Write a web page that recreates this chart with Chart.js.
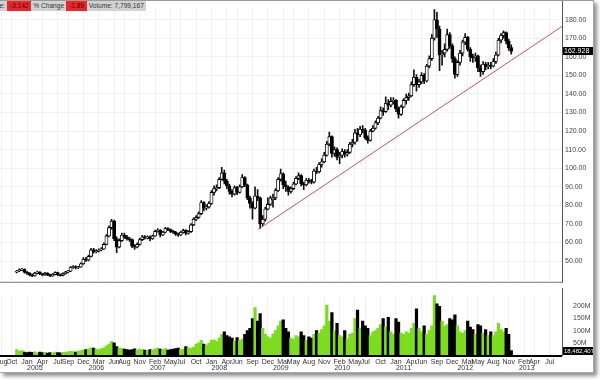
<!DOCTYPE html>
<html>
<head>
<meta charset="utf-8">
<script src="https://cdn.jsdelivr.net/npm/chart.js@4.4.1/dist/chart.umd.min.js"></script>
<style>
  body { margin: 0; background: #fff; font-family: "Liberation Sans", Arial, sans-serif; }
  #frame {
    position: absolute; left: 0; top: 0; width: 593px; height: 371px;
    border-top: 1px solid #9a9a9a; border-right: 1px solid #a8a8a8; border-bottom: 1px solid #a8a8a8;
    box-shadow: 3px 3px 4px rgba(0, 0, 0, 0.45); background: #fff; overflow: hidden;
  }
  #price { position: absolute; left: 0; top: 0; }
  #volume { position: absolute; left: 0; top: 287px; }
  #info {
    position: absolute; left: 0; top: 0; height: 10px; background: #d2d2d2; padding-right: 2px;
    font-size: 6.6px; line-height: 10px; color: #333; white-space: nowrap; overflow: hidden;
  }
  #info .red { display: inline-block; background: #e8262b; color: #5a0000; padding: 0 3px; }
</style>
</head>
<body>
<div id="frame">
  <canvas id="price" width="593" height="288"></canvas>
  <canvas id="volume" width="593" height="84"></canvas>
  <div id="info"><span style="margin-left:-20px">Change:</span> <span class="red">-3.142</span> % Change <span class="red">-1.89</span> Volume: 7,799,167</div>
</div>
<script>
// x is measured in months from Jan 2005, two candles per month
const firstMonth = -2;
const monthStep = 0.5;
const xMin = -5.27;
const xMax = 104.4;

const opens = [
  44.0, 44.6, 45.2, 45.5,
  // 2005
  44.0, 43.5, 42.5, 42.0, 43.5, 44.0, 43.0, 42.5, 43.5, 42.5, 42.0, 42.8, 43.8, 42.5, 42.3, 43.2, 44.0, 44.5, 46.5, 47.0, 46.5, 46.8, 48.5, 51.0,
  // 2006
  50.5, 52.5, 56.0, 55.0, 55.5, 55.8, 56.5, 59.0, 63.5, 68.0, 71.5, 62.0, 57.5, 61.0, 64.0, 63.0, 62.0, 61.5, 58.0, 57.5, 59.0, 61.5, 63.0, 62.5,
  // 2007
  63.0, 62.0, 63.5, 66.0, 66.5, 64.0, 65.5, 67.5, 67.0, 66.0, 65.5, 64.5, 64.0, 65.5, 66.5, 65.0, 65.8, 69.5, 72.5, 73.5, 75.5, 81.5, 78.5, 79.0,
  // 2008
  81.0, 87.0, 89.0, 89.5, 94.0, 97.5, 93.0, 90.5, 87.5, 86.0, 89.5, 87.0, 90.0, 95.0, 91.0, 84.0, 81.0, 78.5, 85.0, 84.0, 70.0, 72.5, 78.0, 80.5,
  // 2009
  83.0, 84.0, 88.0, 94.0, 97.0, 91.0, 90.0, 87.5, 89.0, 91.5, 94.5, 96.0, 91.5, 91.0, 93.5, 93.0, 92.5, 98.5, 98.0, 102.0, 103.5, 107.0, 113.0, 117.0,
  // 2010
  108.0, 110.0, 106.0, 107.0, 109.0, 107.5, 108.5, 113.0, 114.0, 119.0, 118.0, 121.0, 120.5, 116.5, 115.0, 120.0, 121.5, 124.5, 127.0, 131.0, 130.5, 135.0, 134.0, 136.0,
  // 2011
  136.5, 132.0, 129.0, 133.0, 136.5, 138.0, 139.0, 145.0, 149.0, 145.0, 146.5, 150.0, 147.0, 155.0, 159.0, 170.0, 180.0, 175.0, 161.0, 162.0, 164.0, 172.0, 166.0, 159.0,
  // 2012
  150.5, 157.0, 162.0, 168.0, 170.5, 164.0, 160.0, 159.5, 160.5, 154.0, 152.0, 156.0, 154.5, 155.5, 155.0, 157.5, 161.0, 169.0, 171.5, 173.0, 168.5, 165.0
];
const highs = [
  45.0, 45.8, 46.0, 45.8,
  44.4, 43.8, 42.9, 43.9, 44.6, 44.3, 43.4, 43.9, 43.8, 42.9, 43.2, 44.2, 44.1, 43.0, 43.6, 44.4, 45.0, 47.0, 47.6, 47.4, 47.2, 49.0, 51.8, 52.0,
  53.2, 56.8, 56.8, 56.2, 56.6, 57.3, 59.8, 64.2, 69.0, 72.5, 72.0, 63.0, 62.0, 65.0, 65.0, 63.8, 62.8, 62.0, 58.8, 59.8, 62.2, 63.8, 63.7, 63.6,
  63.5, 64.0, 66.6, 67.5, 66.9, 66.0, 68.2, 68.0, 67.4, 66.6, 66.0, 65.0, 66.0, 67.2, 67.0, 66.4, 70.2, 73.2, 74.5, 76.5, 82.5, 82.0, 80.2, 82.0,
  88.0, 90.5, 91.0, 95.0, 100.5, 99.0, 94.0, 91.5, 88.5, 90.5, 90.2, 91.0, 96.5, 95.5, 91.5, 85.0, 82.0, 90.0, 88.5, 84.5, 74.5, 79.0, 84.0, 85.0,
  86.0, 89.0, 95.0, 99.5, 97.5, 93.0, 90.5, 90.0, 92.5, 95.5, 97.5, 96.5, 92.5, 94.5, 94.5, 94.0, 99.5, 100.5, 103.0, 105.0, 108.5, 114.5, 119.5, 117.5,
  111.5, 111.0, 108.5, 110.5, 110.0, 110.0, 114.0, 115.5, 121.0, 121.5, 122.5, 123.0, 121.5, 117.5, 121.0, 123.0, 125.5, 128.0, 133.0, 132.5, 138.5, 137.0, 138.0, 138.0,
  137.0, 133.0, 134.0, 137.5, 140.0, 140.5, 146.5, 153.0, 150.5, 148.0, 151.5, 151.0, 156.0, 160.5, 172.0, 185.5, 184.0, 176.5, 163.5, 167.0, 175.0, 173.0, 167.0, 160.0,
  158.0, 163.5, 169.0, 172.5, 171.0, 165.0, 161.5, 162.0, 161.0, 155.5, 157.5, 157.0, 157.0, 157.0, 159.0, 162.5, 170.0, 172.5, 174.0, 173.5, 169.5, 166.5
];
const lows = [
  43.6, 44.2, 44.8, 43.5,
  42.8, 42.0, 41.6, 41.8, 43.1, 42.6, 42.0, 42.2, 42.1, 41.5, 41.7, 42.5, 42.1, 41.8, 42.0, 42.9, 43.6, 44.2, 46.0, 45.8, 45.9, 46.5, 48.2, 49.8,
  50.0, 52.2, 54.2, 54.4, 54.8, 55.4, 56.2, 58.7, 63.0, 67.2, 61.0, 54.5, 57.0, 60.5, 62.2, 61.2, 60.5, 57.2, 56.2, 57.0, 58.6, 61.0, 61.8, 61.9,
  60.8, 61.6, 63.2, 65.5, 63.0, 63.6, 65.2, 66.3, 65.3, 64.8, 63.8, 63.2, 63.6, 65.0, 64.0, 64.5, 65.4, 69.0, 71.8, 73.0, 75.0, 77.0, 77.5, 78.5,
  80.5, 85.5, 87.8, 89.0, 93.5, 91.5, 89.0, 86.0, 84.5, 85.5, 85.8, 86.5, 89.5, 90.0, 83.0, 78.5, 72.5, 78.0, 82.5, 67.5, 69.0, 71.5, 77.5, 80.0,
  79.0, 83.0, 87.5, 93.0, 89.0, 87.5, 85.5, 86.5, 88.5, 91.0, 93.8, 90.5, 88.5, 90.5, 92.0, 91.5, 92.0, 97.0, 97.5, 100.5, 103.0, 106.5, 112.0, 106.0,
  106.5, 104.5, 102.5, 105.5, 106.0, 106.5, 108.0, 111.5, 113.0, 114.5, 117.0, 119.0, 115.5, 113.5, 114.5, 119.5, 121.0, 123.5, 126.5, 128.5, 130.0, 131.5, 133.0, 134.5,
  130.5, 127.0, 128.5, 132.5, 134.5, 136.5, 138.5, 144.0, 141.5, 143.5, 145.5, 145.5, 146.5, 154.0, 158.0, 169.0, 170.5, 152.5, 155.5, 160.0, 163.0, 164.5, 157.0, 148.5,
  149.5, 155.5, 160.5, 166.5, 163.0, 157.5, 157.0, 157.5, 152.0, 149.5, 150.5, 153.0, 153.5, 153.5, 154.5, 156.5, 160.5, 167.5, 170.0, 167.0, 163.5, 161.5
];
const closes = [
  44.6, 45.2, 45.5, 44.0,
  43.5, 42.5, 42.0, 43.5, 44.0, 43.0, 42.5, 43.5, 42.5, 42.0, 42.8, 43.8, 42.5, 42.3, 43.2, 44.0, 44.5, 46.5, 47.0, 46.5, 46.8, 48.5, 51.0, 50.5,
  52.5, 56.0, 55.0, 55.5, 55.8, 56.5, 59.0, 63.5, 68.0, 71.5, 62.0, 57.5, 61.0, 64.0, 63.0, 62.0, 61.5, 58.0, 57.5, 59.0, 61.5, 63.0, 62.5, 63.0,
  62.0, 63.5, 66.0, 66.5, 64.0, 65.5, 67.5, 67.0, 66.0, 65.5, 64.5, 64.0, 65.5, 66.5, 65.0, 65.8, 69.5, 72.5, 73.5, 75.5, 81.5, 78.5, 79.0, 81.0,
  87.0, 89.0, 89.5, 94.0, 97.5, 93.0, 90.5, 87.5, 86.0, 89.5, 87.0, 90.0, 95.0, 91.0, 84.0, 81.0, 78.5, 85.0, 84.0, 70.0, 72.5, 78.0, 80.5, 84.0,
  84.0, 88.0, 94.0, 97.0, 91.0, 90.0, 87.5, 89.0, 91.5, 94.5, 96.0, 91.5, 91.0, 93.5, 93.0, 92.5, 98.5, 98.0, 102.0, 103.5, 107.0, 113.0, 117.0, 108.0,
  110.0, 106.0, 107.0, 109.0, 107.5, 108.5, 113.0, 114.0, 119.0, 118.0, 121.0, 120.5, 116.5, 115.0, 120.0, 121.5, 124.5, 127.0, 131.0, 130.5, 135.0, 134.0, 136.0, 136.5,
  132.0, 129.0, 133.0, 136.5, 138.0, 139.0, 145.0, 149.0, 145.0, 146.5, 150.0, 147.0, 155.0, 159.0, 170.0, 180.0, 175.0, 161.0, 162.0, 164.0, 172.0, 166.0, 159.0, 150.5,
  157.0, 162.0, 168.0, 170.5, 164.0, 160.0, 159.5, 160.5, 154.0, 152.0, 156.0, 154.5, 155.5, 155.0, 157.5, 161.0, 169.0, 171.5, 173.0, 168.5, 165.0, 162.928
];
// volume in millions of shares
const volumes = [
  22, 15, 18, 12,
  10, 12, 11, 13, 9, 12, 10, 11, 8, 10, 9, 12, 10, 9, 11, 12, 13, 15, 14, 12, 16, 18, 20, 22,
  25, 30, 28, 24, 22, 26, 30, 38, 45, 55, 50, 35, 30, 26, 24, 22, 20, 22, 25, 20, 24, 22, 20, 18,
  22, 20, 25, 28, 24, 22, 26, 20, 22, 24, 26, 28, 22, 24, 35, 30, 28, 32, 45, 50, 60, 45, 40, 48,
  60, 62, 55, 70, 85, 95, 80, 75, 70, 55, 72, 60, 65, 85, 100, 110, 150, 195, 140, 170, 110, 85, 75, 70,
  85, 100, 120, 140, 145, 110, 95, 70, 65, 80, 75, 95, 80, 60, 75, 70, 85, 100, 90, 105, 120, 205, 140, 175,
  100, 130, 80, 75, 100, 65, 85, 90, 150, 185, 110, 140, 120, 110, 80, 95, 100, 110, 125, 150, 115, 155, 95, 85,
  150, 135, 90, 85, 95, 90, 110, 130, 190, 110, 95, 120, 85, 100, 120, 245, 210, 200, 140, 120, 125, 150, 145, 165,
  120, 95, 90, 100, 140, 115, 105, 85, 125, 120, 90, 105, 80, 95, 80, 95, 130, 105, 95, 110, 85, 18.482407
];

// support line drawn from the 2008 low
const trendMonths = [45.1, 104.4];
const trendPrices = [67.0, 176.4];

const priceTicks = [50, 60, 70, 80, 90, 100, 110, 120, 130, 140, 150, 160, 170, 180];
const volumeTicks = [50, 100, 150, 200];
const tickMonths = [-5, -3, 0, 3, 6, 8, 11, 14, 17, 19, 22, 25, 28, 30, 33, 36, 39, 41, 44, 47,
  50, 52, 55, 58, 61, 64, 66, 69, 72, 75, 77, 80, 83, 86, 88, 91, 94, 97, 99, 102];
const tickLabels = ['Aug', 'Oct', 'Jan', 'Apr', 'Jul', 'Sep', 'Dec', 'Mar', 'Jun', 'Aug', 'Nov', 'Feb', 'May', 'Jul', 'Oct', 'Jan', 'Apr', 'Jun', 'Sep', 'Dec',
  'Mar', 'May', 'Aug', 'Nov', 'Feb', 'May', 'Jul', 'Oct', 'Jan', 'Apr', 'Jun', 'Sep', 'Dec', 'Mar', 'May', 'Aug', 'Nov', 'Feb', 'Apr', 'Jul'];
// year labels start at January 1st of each year
const yearMonths = [0, 12, 24, 36, 48, 60, 72, 84, 96];
const yearLabels = ['2005', '2006', '2007', '2008', '2009', '2010', '2011', '2012', '2013'];

const FONT = '"Liberation Sans", Arial, sans-serif';
const xs = closes.map((_, i) => firstMonth + i * monthStep);
const isUp = (i) => closes[i] >= opens[i];
const last = closes.length - 1;

const gridX = {
  type: 'linear', min: xMin, max: xMax, offset: false,
  grid: { color: '#f1f1f1', drawTicks: false, offset: false },
  border: { display: false },
  afterBuildTicks: (s) => { s.ticks = tickMonths.map((v) => ({ value: v })); },
};

// value tags and panel lines
const tagPlugin = {
  id: 'tags',
  afterDraw(chart, args, opts) {
    const { ctx, chartArea: a } = chart;
    ctx.save();
    ctx.strokeStyle = opts.lineColor;
    ctx.lineWidth = opts.lineWidth;
    ctx.beginPath();
    ctx.moveTo(a.left, a.bottom + opts.lineWidth / 2);
    ctx.lineTo(a.right, a.bottom + opts.lineWidth / 2);
    ctx.stroke();
    ctx.strokeStyle = '#555';
    ctx.lineWidth = 1;
    ctx.beginPath();
    ctx.moveTo(a.right + 0.5, 0);
    ctx.lineTo(a.right + 0.5, a.bottom + 1);
    ctx.stroke();
    const y = chart.scales.y.getPixelForValue(opts.value);
    ctx.fillStyle = '#000';
    ctx.fillRect(a.right + 1, Math.round(y) - 4, 33, 8);
    ctx.fillStyle = '#fff';
    ctx.font = opts.fontSize + 'px ' + FONT;
    ctx.textBaseline = 'middle';
    ctx.fillText(opts.text, a.right + 2, Math.round(y));
    // year captions under the month labels, starting at Jan 1st
    if (opts.years) {
      const sx = chart.scales.x;
      ctx.fillStyle = '#333';
      ctx.font = '7px ' + FONT;
      ctx.textBaseline = 'top';
      ctx.textAlign = 'left';
      opts.years.forEach((lab, i) => ctx.fillText(lab, sx.getPixelForValue(opts.yearAt[i]), a.bottom + 10));
    }
    ctx.restore();
  },
};

new Chart(document.getElementById('price'), {
  type: 'bar',
  data: {
    datasets: [
      {
        data: xs.map((x, i) => ({ x, y: [lows[i], highs[i]] })),
        backgroundColor: '#111', barThickness: 1, grouped: false, order: 3,
      },
      {
        data: xs.map((x, i) => ({ x, y: [opens[i], closes[i]] })),
        backgroundColor: (c) => (isUp(c.dataIndex) ? '#fff' : '#000'),
        borderColor: '#000', borderWidth: 0.9, borderSkipped: false,
        barThickness: 3.2, grouped: false, order: 2,
      },
      {
        type: 'line',
        data: trendMonths.map((x, i) => ({ x, y: trendPrices[i] })),
        borderColor: '#c2585a', borderWidth: 1, pointRadius: 0, order: 1,
      },
    ],
  },
  options: {
    responsive: false, animation: false, events: [],
    layout: { autoPadding: false, padding: { top: 0, bottom: 1, left: 0, right: 0 } },
    plugins: {
      legend: { display: false }, tooltip: { enabled: false },
      tags: { value: closes[last], text: closes[last].toFixed(3), fontSize: 7, lineColor: '#777', lineWidth: 1 },
    },
    scales: {
      x: { ...gridX, ticks: { display: false }, afterFit: (s) => { s.height = 0; } },
      y: {
        position: 'right', min: 38.8, max: 186.2,
        afterBuildTicks: (s) => { s.ticks = priceTicks.map((v) => ({ value: v })); },
        ticks: { callback: (v) => v.toFixed(2), font: { size: 7, family: FONT }, color: '#444', padding: 3 },
        grid: { color: '#f3f3f3', drawTicks: false },
        border: { display: false },
        afterFit: (s) => { s.width = 31; },
      },
    },
  },
  plugins: [tagPlugin],
});

new Chart(document.getElementById('volume'), {
  type: 'bar',
  data: {
    datasets: [{
      data: xs.map((x, i) => ({ x, y: volumes[i] * 1e6 })),
      backgroundColor: (c) => (isUp(c.dataIndex) ? '#7ddc1f' : '#000'),
      barPercentage: 1, categoryPercentage: 1,
    }],
  },
  options: {
    responsive: false, animation: false, events: [],
    layout: { autoPadding: false, padding: { top: 1, bottom: 0, left: 0, right: 0 } },
    plugins: {
      legend: { display: false }, tooltip: { enabled: false },
      tags: {
        value: volumes[last] * 1e6,
        text: Math.round(volumes[last] * 1e6).toLocaleString('en-US'),
        fontSize: 6, lineColor: '#000', lineWidth: 2,
        years: yearLabels, yearAt: yearMonths,
      },
    },
    scales: {
      x: {
        ...gridX,
        ticks: {
          autoSkip: false, maxRotation: 0, padding: 4, color: '#333',
          font: { size: 7, family: FONT, lineHeight: 1 },
          callback: (v, i) => tickLabels[i],
        },
        // keep the plot flush with the left edge, the first label may be cut
        afterFit: (s) => { s.height = 17; s.paddingLeft = 0; s.paddingRight = 0; },
      },
      y: {
        position: 'right', min: 0, max: 246e6,
        afterBuildTicks: (s) => { s.ticks = volumeTicks.map((v) => ({ value: v * 1e6 })); },
        ticks: { callback: (v) => v / 1e6 + 'M', font: { size: 7, family: FONT }, color: '#444', padding: 3 },
        grid: { display: false },
        border: { display: false },
        afterFit: (s) => { s.width = 31; },
      },
    },
  },
  plugins: [tagPlugin],
});
</script>
</body>
</html>
